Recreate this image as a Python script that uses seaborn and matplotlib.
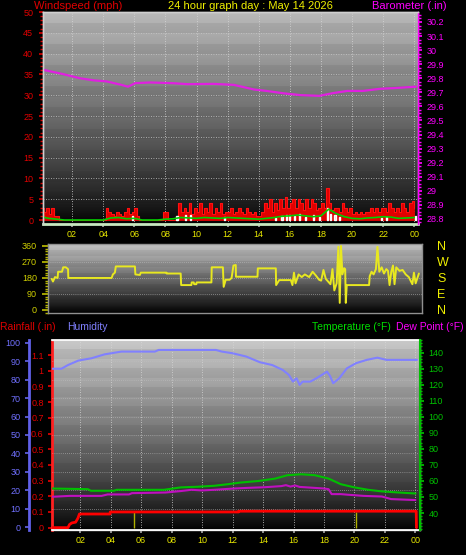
import numpy as np
import pandas as pd
import seaborn as sns
import matplotlib
matplotlib.use("Agg")
import matplotlib.pyplot as plt
from matplotlib.ticker import MultipleLocator, FixedLocator, FuncFormatter

# ---- data -------------------------------------------------------------
hour_ticks = [2, 4, 6, 8, 10, 12, 14, 16, 18, 20, 22, 24]
hour_labels = ["02", "04", "06", "08", "10", "12", "14", "16", "18", "20", "22", "00"]

# wind speed, 10-minute samples (mph)
wind_gust = [
    3, 2, 3, 1.5, 3, 1,
    1, 0, 0, 0, 0, 0,
    0, 0, 0, 0, 0, 0,
    0, 0, 0, 0, 0, 0,
    0, 3, 2, 1.5, 1, 2,
    1.5, 1, 2, 3, 1.5, 2,
    3, 1, 0, 0, 0, 0,
    0, 0, 0, 0, 0, 2,
    2, 0, 0, 0, 0, 4,
    2, 3, 2, 4, 1.5, 3,
    2, 4, 1.5, 3, 2, 4,
    1.5, 3, 2, 4, 1.5, 2,
    2, 3, 1.5, 2, 3, 2,
    1.5, 3, 2, 1.5, 2, 1,
    1, 2, 4, 3, 5, 2,
    4, 2.5, 5, 3, 5.5, 3,
    4, 5, 3, 5, 4, 2.5,
    5, 3, 5, 4, 2.5, 3,
    4, 3, 7.7, 4, 2.5, 3,
    3, 2, 4, 3, 2, 3,
    1.5, 2, 1.5, 2, 1.5, 2,
    2, 3, 2, 3, 2, 3,
    3, 2, 4, 3, 2, 3,
    2, 4, 3, 2, 4, 4.5,
    3,
]

# average wind, 30-minute samples (mph)
wind_avg = [
    0.8, 0.4, 0.2, 0.0, 0.0, 0.0, 0.0, 0.0, 0.0, 0.5,
    0.6, 0.3, 0.4, 0.0, 0.0, 0.0, 0.2, 0.3, 0.6, 0.5,
    0.4, 0.6, 0.5, 0.4, 0.6, 0.5, 0.4, 0.3, 0.2, 0.4,
    0.6, 0.9, 1.0, 1.2, 1.0, 0.8, 1.0, 2.6, 1.5, 0.8,
    0.4, 0.3, 0.5, 0.6, 0.8, 0.7, 0.4, 0.5, 0.6,
]

calm_hours = [5.9, 8.75, 9.3, 9.6, 11.8, 15.1, 15.5, 15.8, 16.0, 16.3, 16.6,
              17.0, 17.5, 17.9, 18.4, 18.6, 18.9, 19.2, 21.9, 22.2, 24.1]
calm_speed = [1.0, 1.0, 1.2, 1.2, 0.8, 0.6, 1.0, 1.3, 1.2, 1.0, 1.5,
              0.8, 1.2, 0.8, 3.0, 1.5, 1.2, 0.8, 0.6, 0.8, 1.0]

baro_hours = [0.15, 1.4, 2.5, 3.4, 4.2, 5.1, 5.6, 6.05, 7.0, 8.5, 9.4, 11.1,
              12.4, 13.7, 14.5, 15.6, 16.7, 17.9, 18.8, 19.7, 20.7, 21.8, 22.7, 24.1]
baro_in = [29.86, 29.83, 29.80, 29.785, 29.778, 29.755, 29.74, 29.765, 29.77, 29.765,
           29.758, 29.76, 29.753, 29.72, 29.71, 29.693, 29.68, 29.675, 29.695, 29.71,
           29.71, 29.725, 29.73, 29.74]

dir_hours = [0.69, 0.77, 0.9, 1.07, 1.1, 1.35, 1.43, 1.6, 1.74, 1.76, 4.55, 4.63,
             4.76, 4.82, 6.05, 6.08, 6.37, 6.43, 8.08, 8.1, 9.0, 9.03, 9.69, 9.71,
             9.84, 9.87, 10.01, 10.03, 10.98, 11.0, 11.72, 11.77, 11.9, 12.15, 12.28,
             12.4, 12.55, 12.56, 13.95, 13.97, 15.13, 15.15, 15.35, 16.1, 16.2, 16.3,
             16.4, 16.6, 16.8, 17.0, 17.28, 17.5, 17.7, 17.92, 18.05, 18.2, 18.35,
             18.5, 18.65, 18.78, 18.9, 19.05, 19.16, 19.25, 19.33, 19.42, 19.53, 19.6,
             19.64, 19.7, 21.14, 21.18, 21.3, 21.43, 21.58, 21.68, 21.8, 21.95, 22.1,
             22.25, 22.36, 22.46, 22.57, 22.68, 22.78, 22.89, 23.1, 23.3, 23.5, 23.7,
             23.93, 24.03, 24.14, 24.35]
dir_deg = [175, 160, 185, 180, 215, 215, 240, 240, 230, 180, 180, 200,
           210, 245, 245, 200, 197, 210, 210, 205, 205, 140, 140, 155,
           155, 145, 145, 155, 155, 240, 240, 130, 170, 170, 180,
           250, 253, 187, 187, 234, 234, 140, 168, 168, 140, 210,
           150, 200, 185, 200, 185, 215, 195, 170, 165, 225, 175,
           160, 145, 230, 110, 150, 356, 40, 360, 200, 235, 230,
           40, 140, 140, 190, 215, 200, 230, 355, 215, 240, 205,
           230, 220, 140, 215, 250, 145, 240, 220, 225, 200, 185,
           145, 210, 150, 205]

temp_hours = [0.1, 2.5, 2.7, 4.2, 4.4, 7.5, 8.6, 9.7, 10.8, 11.7, 12.5, 13.7,
              14.8, 15.6, 16.5, 17.4, 18.3, 19.1, 20.0, 20.9, 21.8, 22.9, 24.0]
temp_f = [55.3, 54.9, 53.9, 53.9, 54.5, 54.5, 56.0, 56.4, 57.0, 58.0, 59.0, 60.0,
          61.5, 63.6, 64.2, 63.6, 61.5, 58.0, 56.0, 54.5, 53.5, 52.8, 52.2]

dew_hours = [0.1, 1.3, 3.4, 3.8, 5.2, 5.4, 7.6, 8.6, 9.3, 10.0, 10.8, 12.1, 13.0,
             14.1, 15.2, 15.5, 15.8, 16.1, 16.4, 16.9, 18.0, 18.3, 18.5, 19.1, 19.6,
             20.6, 21.8, 22.4, 24.0]
dew_f = [50.1, 50.7, 50.7, 51.6, 51.6, 52.4, 52.8, 53.7, 54.5, 54.1, 54.5, 55.3, 55.7,
         56.1, 56.8, 57.4, 56.5, 57.2, 56.3, 56.0, 55.3, 54.9, 51.8, 51.8, 51.4,
         50.7, 50.3, 48.7, 48.1]

hum_hours = [0.1, 0.77, 1.2, 1.87, 2.75, 3.6, 4.7, 6.9, 7.15, 10.9, 11.3, 12.0, 12.9,
             13.8, 14.6, 15.3, 15.7, 15.96, 16.2, 16.4, 16.6, 17.1, 17.5, 18.2, 18.4,
             18.6, 19.0, 19.5, 20.1, 20.8, 21.5, 22.1, 24.1]
hum_pct = [86, 86, 88, 90.4, 91.7, 93.8, 95.3, 95.3, 96.2, 96.2, 95.3, 94.4, 92.6,
           89.5, 88, 85.3, 82.6, 79, 80.8, 77.2, 79, 79, 80.8, 84.4, 82,
           78.1, 80.8, 86.2, 89, 90.8, 92, 90.8, 90.8]

rain_hours = [0.1, 1.2, 1.3, 1.45, 1.7, 1.85, 1.95, 3.96, 3.97, 12.4, 12.41, 24.05, 24.07]
rain_in = [0.0, 0.0, 0.02, 0.03, 0.035, 0.06, 0.087, 0.087, 0.1, 0.1, 0.105, 0.105, 0.0]

rain_marks = [5.55, 20.1]

# ---- style ------------------------------------------------------------
sns.set_theme(style="dark", rc={
    "figure.facecolor": "black", "axes.facecolor": "black",
    "savefig.facecolor": "black", "xtick.bottom": True, "ytick.left": True,
    "xtick.direction": "out", "ytick.direction": "out", "axes.grid": False,
})
plt.rcParams["font.family"] = ["Liberation Sans", "DejaVu Sans"]

W, H = 466, 555
YEL = "#e8e800"


def box(x0, y0, x1, y1):
    return [x0 / W, 1 - y1 / H, (x1 - x0) / W, (y1 - y0) / H]


def paint_bg(ax, top, bands, power=0.8):
    x0, x1 = ax.get_xlim()
    y0, y1 = ax.get_ylim()
    t = np.linspace(0, 1, 400)
    shade = top * t ** power
    frac = (t * bands) % 1
    shade = shade + np.where(frac > 0.5, 6, -6) * t
    shade = np.clip(shade, 0, 255)[::-1]
    img = np.repeat(shade[:, None], 2, axis=1) / 255
    ax.imshow(np.dstack([img, img, img]), extent=(x0, x1, y0, y1),
              aspect="auto", zorder=0, interpolation="nearest")
    ax.set_xlim(x0, x1)
    ax.set_ylim(y0, y1)


def style_spines(ax, color="#d0d0d0"):
    for s in ax.spines.values():
        s.set_color(color)
        s.set_linewidth(1)


def hour_axis(ax, show_labels=True):
    ax.xaxis.set_major_locator(FixedLocator(hour_ticks))
    if show_labels:
        ax.set_xticklabels(hour_labels)
    else:
        ax.set_xticklabels([])
    ax.tick_params(axis="x", colors="#a0a0a0", labelcolor=YEL, labelsize=6.5,
                   length=2, pad=2.5)
    for h in hour_ticks:
        ax.axvline(h, color="#d8d8d8", lw=0.6, ls=(0, (1, 2)), zorder=1)


fig = plt.figure(figsize=(W / 100, H / 100), dpi=100)

# ---- top: wind + barometer ----------------------------------------------
ax_w = fig.add_axes(box(43, 12, 418, 224))
ax_w.set_xlim(0.13, 24.24)
ax_w.set_ylim(-0.96, 50)
paint_bg(ax_w, 180, 10)
for v in range(5, 50, 5):
    ax_w.axhline(v, color="#c8c8c8", lw=0.6, ls=(0, (1, 2)), zorder=1)
hour_axis(ax_w)

wind_t = np.arange(len(wind_gust)) / 6
ax_w.fill_between(wind_t, 0, wind_gust, step="post", color="#e00000",
                  lw=0.6, edgecolor="#e00000", zorder=2)
ax_w.step(wind_t, wind_gust, where="post", color="#ff1010", lw=0.8, zorder=2)
ax_w.bar(calm_hours, calm_speed, width=0.08, color="#dcecd4", zorder=3)
avg_t = np.arange(len(wind_avg)) / 2
sns.lineplot(x=avg_t, y=wind_avg, ax=ax_w, color="#00d000", lw=1.2, zorder=4)

ax_w.yaxis.set_major_locator(MultipleLocator(5))
ax_w.yaxis.set_minor_locator(MultipleLocator(1))
ax_w.tick_params(axis="y", which="both", colors="#d00000", labelcolor="#e00000",
                 labelsize=6.5, length=3, pad=4)
ax_w.tick_params(axis="y", which="minor", length=2)
style_spines(ax_w)
ax_w.spines["bottom"].set_color("#c8e8c0")
ax_w.spines["bottom"].set_linewidth(2)

ax_b = ax_w.twinx()
ax_b.set_ylim(28.764, 30.271)
sns.lineplot(x=baro_hours, y=baro_in, ax=ax_b, color="#e020e0", lw=1.6)
ax_b.yaxis.set_major_locator(MultipleLocator(0.1))
ax_b.yaxis.set_minor_locator(MultipleLocator(0.025))
ax_b.yaxis.set_major_formatter(FuncFormatter(lambda v, p: f"{v:g}" if v > 28.75 else ""))
ax_b.tick_params(axis="y", which="both", colors="#ff00ff", labelcolor="#ff00ff",
                 labelsize=6.5, length=3, pad=3)
ax_b.tick_params(axis="y", which="minor", length=2)
style_spines(ax_b)
ax_b.spines["right"].set_color("#ff00ff")
ax_b.spines["bottom"].set_visible(False)
ax_w.set_ylabel("")
ax_b.set_ylabel("")

# ---- middle: wind direction --------------------------------------------
ax_d = fig.add_axes(box(48, 244, 422, 313))
ax_d.set_xlim(0.45, 24.55)
ax_d.set_ylim(-17, 371)
paint_bg(ax_d, 190, 6, power=0.9)
for v in [90, 180, 270]:
    ax_d.axhline(v, color="#c0c0c0", lw=0.5, ls=(0, (1, 2)), zorder=1)
sns.lineplot(x=dir_hours, y=dir_deg, ax=ax_d, color="#e8e820", lw=1.4,
             sort=False, estimator=None, zorder=3)
ax_d.set_xticks([])
ax_d.yaxis.set_major_locator(FixedLocator([0, 90, 180, 270, 360]))
ax_d.yaxis.set_minor_locator(MultipleLocator(15))
ax_d.tick_params(axis="y", which="both", colors="#b8b800", labelcolor="#d0d000",
                 labelsize=6.5, length=4, pad=4)
ax_d.tick_params(axis="y", which="minor", length=2)
style_spines(ax_d, "#909090")

ax_dn = ax_d.twinx()
ax_dn.set_ylim(-17, 371)
ax_dn.yaxis.set_major_locator(FixedLocator([0, 90, 180, 270, 360]))
ax_dn.set_yticklabels(["N", "E", "S", "W", "N"])
ax_dn.tick_params(axis="y", length=0, pad=11, labelcolor="#f0f000", labelsize=9)
for s in ax_dn.spines.values():
    s.set_visible(False)

# ---- bottom: rain, humidity, temperature -----------------------------------
ax_r = fig.add_axes(box(52, 340, 420, 530))
ax_r.set_xlim(0.15, 24.3)
ax_r.set_ylim(-0.015, 1.196)
paint_bg(ax_r, 195, 10)
hour_axis(ax_r)
ax_r.vlines(rain_marks, 0, 0.1, color="#b0b000", lw=1, zorder=2)
ax_r.plot(rain_hours, rain_in, color="#ff0000", lw=2, zorder=3)
ax_r.yaxis.set_major_locator(MultipleLocator(0.1))
ax_r.yaxis.set_major_formatter(FuncFormatter(lambda v, p: f"{v:.1f}".rstrip("0").rstrip(".") if v > -0.01 else ""))
ax_r.tick_params(axis="y", colors="#e00000", labelcolor="#e00000", labelsize=6.5,
                 length=3, pad=3)
style_spines(ax_r)
ax_r.spines["left"].set_color("#ff2020")
ax_r.spines["left"].set_linewidth(2)
ax_r.spines["left"].set_linestyle((0, (2, 1)))

ax_h = ax_r.twinx()
ax_h.set_ylim(-1.6, 101.6)
for v in range(10, 100, 10):
    ax_h.axhline(v, color="#c0c0c0", lw=0.5, ls=(0, (1, 2)), zorder=1)
sns.lineplot(x=hum_hours, y=hum_pct, ax=ax_h, color="#8080ff", lw=1.5,
             sort=False, estimator=None)
ax_h.yaxis.set_ticks_position("left")
ax_h.spines["left"].set_position(("axes", -23 / 368))
ax_h.spines["left"].set_visible(True)
ax_h.spines["left"].set_color("#6060e8")
ax_h.spines["left"].set_linewidth(2)
ax_h.spines["right"].set_visible(False)
ax_h.yaxis.set_major_locator(MultipleLocator(10))
ax_h.tick_params(axis="y", colors="#6060e0", labelcolor="#7070ff", labelsize=6.5,
                 length=3, pad=3)
ax_h.set_ylabel("")

ax_t = ax_r.twinx()
ax_t.set_ylim(29.4, 148)
sns.lineplot(x=temp_hours, y=temp_f, ax=ax_t, color="#00c000", lw=1.5)
sns.lineplot(x=dew_hours, y=dew_f, ax=ax_t, color="#c010c0", lw=1.5)
ax_t.yaxis.set_major_locator(FixedLocator(list(range(40, 141, 10))))
ax_t.yaxis.set_minor_locator(MultipleLocator(2))
ax_t.tick_params(axis="y", which="both", colors="#00c000", labelcolor="#00c000",
                 labelsize=6.5, length=3, pad=3)
ax_t.tick_params(axis="y", which="minor", length=1.5)
for s in ["left", "top", "bottom"]:
    ax_t.spines[s].set_visible(False)
ax_t.spines["right"].set_color("#00c000")
ax_t.spines["right"].set_linewidth(1.5)
ax_t.set_ylabel("")

# ---- titles ------------------------------------------------------------
def label(x, y, s, color, ha="left", size=8):
    fig.text(x / W, 1 - y / H, s, color=color, fontsize=size, ha=ha, va="center")


label(34, 6, "Windspeed (mph)", "#e00000")
label(250, 6, "24 hour graph day : May 14 2026", "#f0f000", ha="center")
label(372, 6, "Barometer (.in)", "#ff00ff")
label(0, 327, "Rainfall (.in)", "#e00000", size=7.5)
label(67, 327, "Humidity", "#8080ff", size=7.5)
label(391, 327, "Temperature (°F)", "#00e000", ha="right", size=7.5)
label(464, 327, "Dew Point (°F)", "#ff00ff", ha="right", size=7.5)

fig.savefig("out.png", dpi=100, facecolor="black")
